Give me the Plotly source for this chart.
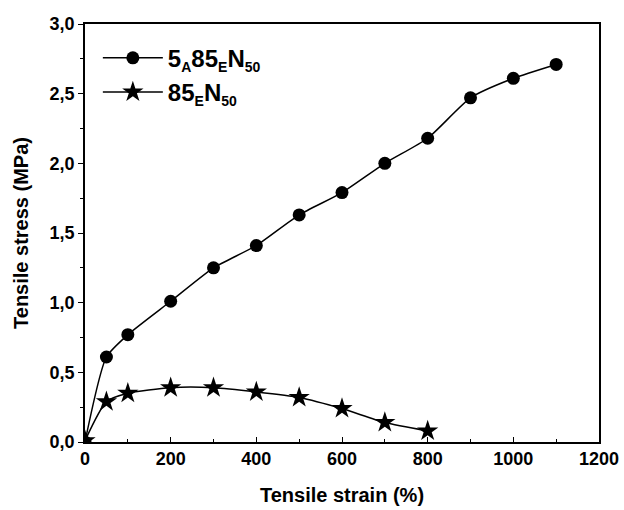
import plotly.graph_objects as go

strain_a = [0, 50, 100, 200, 300, 400, 500, 600, 700, 800, 900, 1000, 1100]
stress_a = [0.0, 0.61, 0.77, 1.01, 1.25, 1.41, 1.63, 1.79, 2.00, 2.18, 2.47, 2.61, 2.71]

strain_e = [0, 50, 100, 200, 300, 400, 500, 600, 700, 800]
stress_e = [0.01, 0.29, 0.35, 0.39, 0.39, 0.36, 0.32, 0.24, 0.14, 0.08]

SUB = '<sub><span style="font-size:14px">{}</span></sub>'
name_a = "5" + SUB.format("A") + "85" + SUB.format("E") + "N" + SUB.format("50")
name_e = "85" + SUB.format("E") + "N" + SUB.format("50")

x_ticks = [0, 200, 400, 600, 800, 1000, 1200]
y_ticks = [0.0, 0.5, 1.0, 1.5, 2.0, 2.5, 3.0]

FONT = "Liberation Sans, Arial, sans-serif"

fig = go.Figure()
fig.add_trace(go.Scatter(
    x=strain_a, y=stress_a, name=name_a, mode="lines+markers",
    line=dict(color="black", width=1.5, shape="spline", smoothing=0.6),
    marker=dict(symbol="circle", size=13, color="black"),
))
fig.add_trace(go.Scatter(
    x=strain_e, y=stress_e, name=name_e, mode="lines+markers",
    line=dict(color="black", width=1.5, shape="spline", smoothing=0.6),
    marker=dict(symbol="star", size=16, color="black"),
))

axis_common = dict(
    showline=True, linecolor="black", linewidth=1.5, mirror=True,
    showgrid=False, zeroline=False, automargin=False,
    tickfont=dict(family=FONT, size=18, color="black", weight="bold"),
    ticklen=5, tickwidth=1.2, tickcolor="black",
)

fig.update_layout(
    width=624, height=510,
    margin=dict(l=85, r=25, t=24, b=68),
    paper_bgcolor="white", plot_bgcolor="white",
    separators=", ",
    font=dict(family=FONT, color="black"),
    xaxis=dict(
        range=[0, 1200], tickvals=x_ticks, ticks="inside",
        minor=dict(dtick=100, ticks="inside", ticklen=3, tickcolor="black", tickwidth=1),
        title=dict(text="Tensile strain (%)", font=dict(family=FONT, size=20, color="black", weight="bold"), standoff=20),
        **axis_common,
    ),
    yaxis=dict(
        range=[0, 3.0], tickvals=y_ticks, tickformat=".1f", ticks="outside",
        minor=dict(dtick=0.25, ticks="outside", ticklen=3, tickcolor="black", tickwidth=1),
        title=dict(text="Tensile stress (MPa)", font=dict(family=FONT, size=20, color="black", weight="bold"), standoff=16),
        **axis_common,
    ),
    legend=dict(
        x=0.025, y=0.972, xanchor="left", yanchor="top",
        bgcolor="rgba(0,0,0,0)",
        font=dict(family=FONT, size=24, color="black", weight="bold"),
        itemwidth=60, tracegroupgap=0,
    ),
)

fig.write_html("out.html")
